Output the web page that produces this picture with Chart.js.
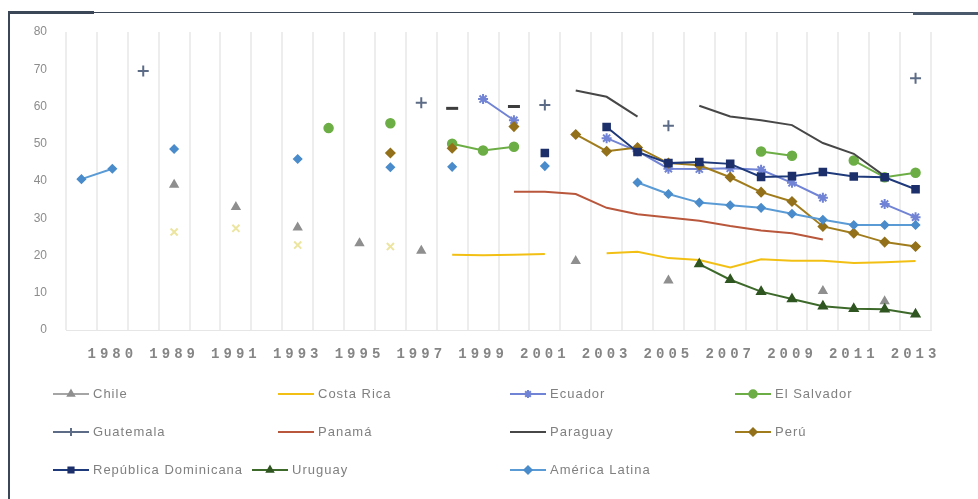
<!DOCTYPE html>
<html>
<head>
<meta charset="utf-8">
<script src="https://cdn.jsdelivr.net/npm/chart.js@4/dist/chart.umd.min.js"></script>
<style>
    html, body { margin: 0; padding: 0; background: #fff; }
    #wrap { position: relative; width: 978px; height: 499px; overflow: hidden; }
    canvas { position: absolute; left: 0; top: 0; }
    .frame { position: absolute; background: #3b4656; }
</style>
</head>
<body>
<div id="wrap">
    <canvas id="povertyChart" width="978" height="499"></canvas>
    <div class="frame" style="left:8px; top:12px; width:970px; height:1px;"></div>
    <div class="frame" style="left:8px; top:11px; width:86px; height:3px;"></div>
    <div class="frame" style="left:913px; top:12px; width:65px; height:3px; background:#4a5a6c;"></div>
    <div class="frame" style="left:8px; top:12px; width:2px; height:487px;"></div>
</div>
<script>
// Categories (only every other one gets a tick label, as in the original)
const years = ['1979', '1980', '1987', '1989', '1990', '1991', '1992', '1993', '1994', '1995',
    '1996', '1997', '1998', '1999', '2000', '2001', '2002', '2003', '2004', '2005',
    '2006', '2007', '2008', '2009', '2010', '2011', '2012', '2013'];
const yTicks = [0, 10, 20, 30, 40, 50, 60, 70, 80];

const n = null;
const chile = [n, n, n, 39, n, 33, n, 27.5, n, 23.3, n, 21.3, n, n, n, n, 18.5, n, n, 13.3, n, n, n, n, 10.5, n, 7.7, n];
const costaRica = [n, n, n, 26.3, n, 27.3, n, 22.8, n, n, 22.4, n, 20.2, 20.1, 20.2, 20.4, n, 20.6, 21, 19.3, 18.8, 16.8, 19, 18.6, 18.6, 18, 18.2, 18.5];
const ecuador = [n, n, n, n, n, n, n, n, n, n, n, n, n, 62, 56.3, n, n, 51.5, 48, 43.3, 43.2, 43.4, 43, 39.5, 35.5, n, 33.8, 30.3];
const elSalvador = [n, n, n, n, n, n, n, n, 54.2, n, 55.5, n, 50, 48.2, 49.2, n, n, n, n, n, n, n, 47.9, 46.8, n, 45.5, 41, 42.2];
const guatemala = [n, n, 69.5, n, n, n, n, n, n, n, n, 61, n, n, n, 60.4, n, n, n, 54.8, n, n, n, n, n, n, n, 67.6];
const panama = [n, n, n, n, n, n, n, n, n, n, n, n, n, n, 37.1, 37.1, 36.5, 32.8, 31.1, 30.2, 29.3, 27.9, 26.7, 26, 24.3, n, n, n];
const paraguay = [n, n, n, n, n, n, n, n, n, n, n, n, 59.5, n, 60, n, 64.3, 62.6, 57.3, n, 60.2, 57.3, 56.3, 55, 50.2, 47.3, 41.3, n];
const peru = [n, n, n, n, n, n, n, n, n, n, 47.5, n, 48.8, n, 54.6, n, 52.5, 48, 49, 44.8, 44.2, 41, 37, 34.5, 27.8, 26, 23.6, 22.4];
const repDominicana = [n, n, n, n, n, n, n, n, n, n, n, n, n, n, n, 47.5, n, 54.5, 47.8, 44.8, 45.1, 44.6, 41.1, 41.3, 42.4, 41.2, 41, 37.8];
const uruguay = [n, n, n, n, n, n, n, n, n, n, n, n, n, n, n, n, n, n, n, n, 17.7, 13.5, 10.3, 8.3, 6.4, 5.7, 5.6, 4.2];
const americaLatina = [40.5, 43.3, n, 48.6, n, n, n, 45.9, n, n, 43.7, n, 43.8, n, n, 44, n, n, 39.6, 36.5, 34.2, 33.5, 32.8, 31.2, 29.6, 28.2, 28.2, 28.2];

// a point with no neighbours on either side
function isolated(ctx) {
    const d = ctx.dataset.data;
    const i = ctx.dataIndex;
    return d[i] != null && d[i - 1] == null && d[i + 1] == null;
}

function series(label, data, color, style, radius, pointColor) {
    return {
        label: label,
        data: data,
        borderColor: color,
        backgroundColor: pointColor || color,
        pointBorderColor: pointColor || color,
        pointBackgroundColor: pointColor || color,
        pointStyle: style || false,
        pointRadius: style ? radius : 0,
        pointBorderWidth: 1.5,
        borderWidth: 2,
        tension: 0,
        spanGaps: false
    };
}

const datasets = [
    series('Chile', chile, '#a5a5a5', 'triangle', 4.5, '#8f8f8f'),
    series('Costa Rica', costaRica, '#f2c014'),
    series('Ecuador', ecuador, '#7183d4', 'star', 5),
    series('El Salvador', elSalvador, '#6cae45', 'circle', 4.5),
    series('Guatemala', guatemala, '#5c6b86', 'cross', 5.5),
    series('Panamá', panama, '#b9573c'),
    series('Paraguay', paraguay, '#474747'),
    series('Perú', peru, '#a07c1c', 'rectRot', 4.5, '#93701a'),
    series('República Dominicana', repDominicana, '#1f3a7a', 'rect', 5, '#1c2f6a'),
    series('Uruguay', uruguay, '#3d6a2a', 'triangle', 5, '#2f5520'),
    series('América Latina', americaLatina, '#5b9bd5', 'rectRot', 4, '#4a8ccb')
];

// isolated survey years that have no marker style still show as small marks
datasets[1].pointStyle = 'crossRot';
datasets[1].pointBorderColor = '#ece5a0';
datasets[1].pointRadius = ctx => isolated(ctx) ? 5 : 0;
datasets[1].pointBorderWidth = 2;
datasets[6].pointStyle = 'line';
datasets[6].pointRadius = ctx => isolated(ctx) ? 6 : 0;
datasets[6].pointBorderWidth = 3;
datasets[6].pointBorderColor = '#3d3d3d';
datasets[2].pointBorderWidth = 2;
datasets[4].pointBorderWidth = 2;

// later series drawn on top, as in the spreadsheet
datasets.forEach((ds, i) => { ds.order = -i; });

// legend grid positions (x of line start, y of row)
const legendPos = [
    [53, 394], [278, 394], [510, 394], [735, 394],
    [53, 432], [278, 432], [510, 432], [735, 432],
    [53, 470], [252, 470], [510, 470]
];

const gridLegend = {
    id: 'gridLegend',
    beforeDraw(chart) {
        const sc = chart.scales.x;
        if (!sc._spaced) {
            const orig = sc.drawLabels.bind(sc);
            sc.drawLabels = function (area) {
                chart.ctx.save();
                chart.ctx.letterSpacing = '4px';
                orig(area);
                chart.ctx.restore();
            };
            sc._spaced = true;
        }
    },
    afterDraw(chart) {
        const ctx = chart.ctx;
        const helpers = Chart.helpers;
        chart.data.datasets.forEach((ds, i) => {
            const [x, y] = legendPos[i];
            ctx.save();
            ctx.strokeStyle = ds.borderColor;
            ctx.lineWidth = 2;
            ctx.beginPath();
            ctx.moveTo(x, y);
            ctx.lineTo(x + 36, y);
            ctx.stroke();
            const style = ds.pointStyle;
            if (style && i !== 1 && i !== 6) {
                ctx.fillStyle = ds.pointBackgroundColor;
                ctx.strokeStyle = ds.pointBorderColor;
                ctx.lineWidth = ds.pointBorderWidth;
                if (helpers && helpers.drawPoint) {
                    helpers.drawPoint(ctx, {
                        pointStyle: style, rotation: 0,
                        radius: 4, borderWidth: ds.pointBorderWidth
                    }, x + 18, y);
                } else {
                    ctx.beginPath();
                    ctx.arc(x + 18, y, 4, 0, Math.PI * 2);
                    ctx.fill();
                }
            }
            ctx.fillStyle = '#808080';
            ctx.font = '13px "Liberation Sans", Arial, sans-serif';
            ctx.letterSpacing = '1px';
            ctx.textBaseline = 'middle';
            ctx.textAlign = 'left';
            ctx.fillText(ds.label, x + 40, y);
            ctx.restore();
        });
    }
};

window.addEventListener('load', () => {
    const ctx = document.getElementById('povertyChart').getContext('2d');
    new Chart(ctx, {
        type: 'line',
        data: {
            labels: years,
            datasets: datasets
        },
        plugins: [gridLegend],
        options: {
            responsive: false,
            animation: false,
            layout: {
                padding: { top: 32, right: 47, bottom: 0, left: 0 }
            },
            plugins: {
                legend: { display: false },
                tooltip: { enabled: false }
            },
            scales: {
                x: {
                    offset: true,
                    afterFit: scale => { scale.height = 169; },
                    grid: {
                        offset: true,
                        color: '#ededed',
                        lineWidth: 2,
                        drawTicks: false
                    },
                    border: { color: '#e6e6e6' },
                    ticks: {
                        autoSkip: false,
                        maxRotation: 0,
                        padding: 16,
                        color: '#858585',
                        font: { family: '"Liberation Mono", monospace', size: 14, weight: 'bold' },
                        callback: (val, i) => i % 2 === 1 ? years[i] : ''
                    }
                },
                y: {
                    min: yTicks[0],
                    max: yTicks[yTicks.length - 1],
                    afterFit: scale => { scale.width = 66; },
                    afterBuildTicks: scale => {
                        scale.ticks = yTicks.map(v => ({ value: v }));
                    },
                    grid: { display: false, drawTicks: false },
                    border: { display: false },
                    ticks: {
                        padding: 19,
                        color: '#8c8c8c',
                        font: { family: '"Liberation Sans", Arial, sans-serif', size: 12 }
                    }
                }
            }
        }
    });
});
</script>
</body>
</html>
